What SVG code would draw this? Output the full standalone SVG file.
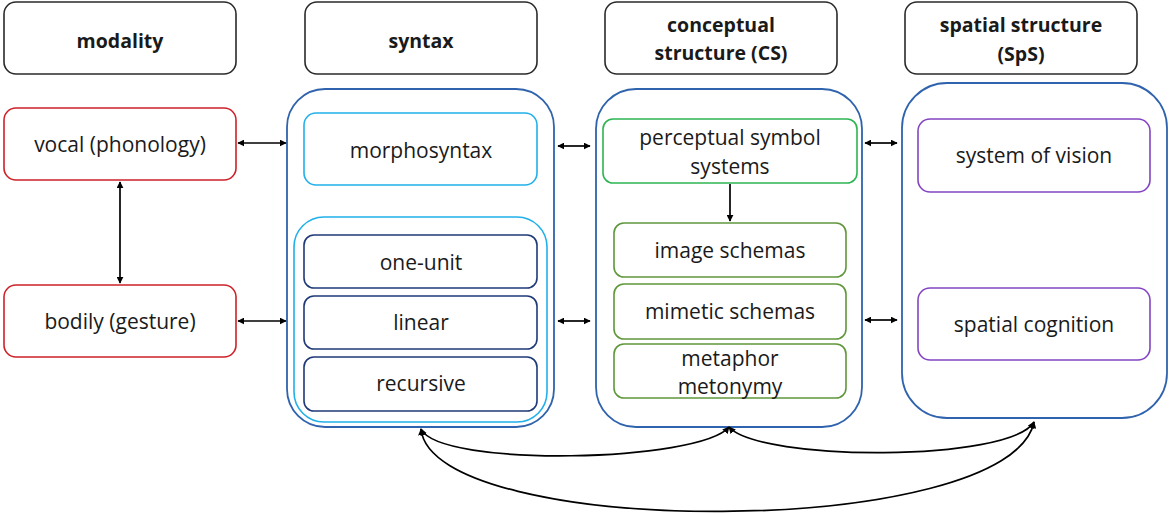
<svg xmlns="http://www.w3.org/2000/svg" width="1169" height="513" viewBox="0 0 1169 513">
  <style>
    text { font-family: "Open Sans", "Noto Sans", "Liberation Sans", sans-serif; font-size: 21px; fill: #1a1a1a; text-anchor: middle; }
    .hd { font-weight: bold; font-size: 19.5px; }
    rect { fill: #ffffff; }
    .head { stroke: #2a2a2a; stroke-width: 1.6; }
    .red { stroke: #cc2229; stroke-width: 1.6; }
    .outer { stroke: #2f63ad; stroke-width: 1.8; }
    .sky { stroke: #21b0ea; stroke-width: 1.6; }
    .navy { stroke: #1f3a78; stroke-width: 1.6; }
    .green { stroke: #2db552; stroke-width: 1.6; }
    .olive { stroke: #5f973b; stroke-width: 1.6; }
    .purple { stroke: #8444c2; stroke-width: 1.6; }
    .link { fill: none; stroke: #000000; stroke-width: 1.7; }
  </style>
  <defs>
    <marker id="tip" viewBox="0 0 10 10" refX="9" refY="5" markerWidth="7" markerHeight="7" orient="auto-start-reverse" markerUnits="userSpaceOnUse">
      <path d="M0,0 L10,5 L0,10 z" fill="#000000"/>
    </marker>
  </defs>

  <!-- column headers -->
  <g id="modality"><rect class="head" x="4" y="2" width="232" height="72" rx="12"/><text class="hd" x="120" y="48">modality</text></g>
  <g id="syntax"><rect class="head" x="305" y="2" width="232" height="72" rx="12"/><text class="hd" x="421" y="48">syntax</text></g>
  <g id="conceptual-structure"><rect class="head" x="605" y="2" width="232" height="72" rx="12"/><text class="hd" x="721" y="32">conceptual</text><text class="hd" x="721" y="60">structure (CS)</text></g>
  <g id="spatial-structure"><rect class="head" x="905" y="2" width="232" height="72" rx="12"/><text class="hd" x="1021" y="32">spatial structure</text><text class="hd" x="1021" y="61">(SpS)</text></g>

  <!-- modality -->
  <g id="vocal"><rect class="red" x="4" y="108" width="232" height="72" rx="12"/><text x="120" y="152">vocal (phonology)</text></g>
  <g id="bodily"><rect class="red" x="4" y="285" width="232" height="72" rx="12"/><text x="120" y="329">bodily (gesture)</text></g>

  <!-- syntax column -->
  <g id="syntax-panel"><rect class="outer" x="287" y="89" width="267" height="338" rx="38"/></g>
  <g id="morphosyntax"><rect class="sky" x="304" y="113" width="233" height="72" rx="12"/><text x="421" y="158">morphosyntax</text></g>
  <g id="syntax-types"><rect class="sky" x="294" y="217" width="253" height="205" rx="30"/></g>
  <g id="one-unit"><rect class="navy" x="304" y="235" width="233" height="53" rx="10"/><text x="421" y="270">one-unit</text></g>
  <g id="linear"><rect class="navy" x="304" y="296" width="233" height="53" rx="10"/><text x="421" y="330">linear</text></g>
  <g id="recursive"><rect class="navy" x="304" y="357" width="233" height="54" rx="10"/><text x="421" y="391">recursive</text></g>

  <!-- conceptual structure column -->
  <g id="cs-panel"><rect class="outer" x="596" y="89" width="266" height="338" rx="40"/></g>
  <g id="perceptual-symbol-systems"><rect class="green" x="603" y="119" width="254" height="64" rx="10"/><text x="730" y="145">perceptual symbol</text><text x="730" y="174">systems</text></g>
  <g id="image-schemas"><rect class="olive" x="614" y="223" width="232" height="54" rx="10"/><text x="730" y="258">image schemas</text></g>
  <g id="mimetic-schemas"><rect class="olive" x="614" y="284" width="232" height="55" rx="10"/><text x="730" y="319">mimetic schemas</text></g>
  <g id="metaphor-metonymy"><rect class="olive" x="614" y="344" width="232" height="54" rx="10"/><text x="730" y="366">metaphor</text><text x="730" y="394">metonymy</text></g>

  <!-- spatial structure column -->
  <g id="sps-panel"><rect class="outer" x="902" y="83" width="265" height="335" rx="45"/></g>
  <g id="system-of-vision"><rect class="purple" x="918" y="119" width="232" height="73" rx="12"/><text x="1034" y="163">system of vision</text></g>
  <g id="spatial-cognition"><rect class="purple" x="918" y="288" width="232" height="72" rx="12"/><text x="1034" y="332">spatial cognition</text></g>

  <!-- connectors -->
  <g id="connectors">
    <line class="link" x1="238" y1="143" x2="286" y2="143" marker-start="url(#tip)" marker-end="url(#tip)"/>
    <line class="link" x1="238" y1="321" x2="286" y2="321" marker-start="url(#tip)" marker-end="url(#tip)"/>
    <line class="link" x1="120" y1="182" x2="120" y2="283" marker-start="url(#tip)" marker-end="url(#tip)"/>
    <line class="link" x1="558" y1="146" x2="590" y2="146" marker-start="url(#tip)" marker-end="url(#tip)"/>
    <line class="link" x1="558" y1="321" x2="590" y2="321" marker-start="url(#tip)" marker-end="url(#tip)"/>
    <line class="link" x1="865" y1="143" x2="897" y2="143" marker-start="url(#tip)" marker-end="url(#tip)"/>
    <line class="link" x1="865" y1="320" x2="897" y2="320" marker-start="url(#tip)" marker-end="url(#tip)"/>
    <line class="link" x1="730" y1="184" x2="730" y2="221" marker-end="url(#tip)"/>
    <path class="link" d="M421,429 C440,468 700,462 729,427" marker-start="url(#tip)" marker-end="url(#tip)"/>
    <path class="link" d="M729,427 C760,462 1010,462 1034,422" marker-start="url(#tip)" marker-end="url(#tip)"/>
    <path class="link" d="M421,429 C432,540 1010,540 1034,422" marker-start="url(#tip)" marker-end="url(#tip)"/>
  </g>
</svg>
